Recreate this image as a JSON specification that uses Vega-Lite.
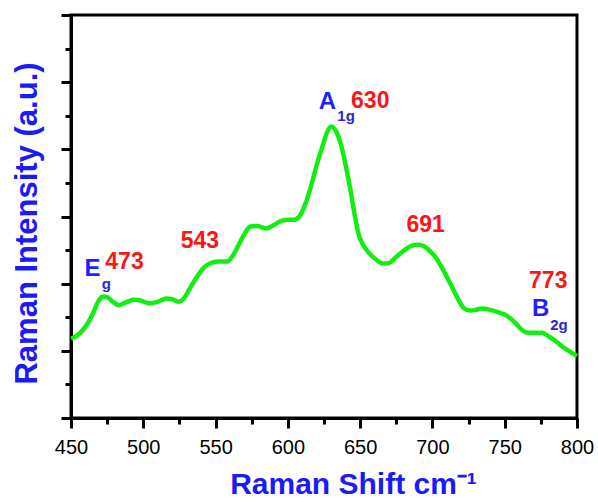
{
  "$schema": "https://vega.github.io/schema/vega-lite/v6.json",
  "width": 506,
  "height": 403,
  "autosize": {"type": "none"},
  "padding": {"left": 71, "top": 15, "right": 21, "bottom": 84},
  "config": {
    "view": {"stroke": "black", "strokeWidth": 3},
    "font": "Liberation Sans"
  },
  "datasets": {
    "spectrum": [
      {"shift": 450, "intensity": 1.18},
      {"shift": 455, "intensity": 1.24},
      {"shift": 460, "intensity": 1.36},
      {"shift": 465, "intensity": 1.55},
      {"shift": 469, "intensity": 1.74},
      {"shift": 472, "intensity": 1.81},
      {"shift": 475, "intensity": 1.8},
      {"shift": 479, "intensity": 1.73},
      {"shift": 483, "intensity": 1.68},
      {"shift": 488, "intensity": 1.72},
      {"shift": 493, "intensity": 1.76},
      {"shift": 498, "intensity": 1.75},
      {"shift": 504, "intensity": 1.71},
      {"shift": 510, "intensity": 1.73},
      {"shift": 516, "intensity": 1.78},
      {"shift": 520, "intensity": 1.77},
      {"shift": 524, "intensity": 1.73},
      {"shift": 528, "intensity": 1.78},
      {"shift": 532, "intensity": 1.92},
      {"shift": 537, "intensity": 2.1},
      {"shift": 541, "intensity": 2.22},
      {"shift": 546, "intensity": 2.3},
      {"shift": 552, "intensity": 2.33},
      {"shift": 558, "intensity": 2.33},
      {"shift": 562, "intensity": 2.42},
      {"shift": 566, "intensity": 2.58},
      {"shift": 570, "intensity": 2.74},
      {"shift": 574, "intensity": 2.85},
      {"shift": 579, "intensity": 2.86},
      {"shift": 585, "intensity": 2.82},
      {"shift": 590, "intensity": 2.87},
      {"shift": 595, "intensity": 2.93},
      {"shift": 600, "intensity": 2.95},
      {"shift": 604, "intensity": 2.95},
      {"shift": 608, "intensity": 3.0},
      {"shift": 612, "intensity": 3.18},
      {"shift": 616, "intensity": 3.45},
      {"shift": 620, "intensity": 3.77},
      {"shift": 624, "intensity": 4.05},
      {"shift": 627, "intensity": 4.25},
      {"shift": 630, "intensity": 4.34},
      {"shift": 633, "intensity": 4.28},
      {"shift": 637, "intensity": 4.05},
      {"shift": 640, "intensity": 3.76},
      {"shift": 643, "intensity": 3.43},
      {"shift": 646, "intensity": 3.05},
      {"shift": 649, "intensity": 2.73},
      {"shift": 652, "intensity": 2.58},
      {"shift": 656, "intensity": 2.46},
      {"shift": 661, "intensity": 2.36},
      {"shift": 666, "intensity": 2.3},
      {"shift": 670, "intensity": 2.31},
      {"shift": 675, "intensity": 2.4},
      {"shift": 680, "intensity": 2.49},
      {"shift": 685, "intensity": 2.56},
      {"shift": 690, "intensity": 2.58},
      {"shift": 694, "intensity": 2.56},
      {"shift": 698, "intensity": 2.49},
      {"shift": 702, "intensity": 2.4},
      {"shift": 706, "intensity": 2.26},
      {"shift": 710, "intensity": 2.1},
      {"shift": 714, "intensity": 1.93},
      {"shift": 718, "intensity": 1.76},
      {"shift": 722, "intensity": 1.63},
      {"shift": 726, "intensity": 1.6},
      {"shift": 730, "intensity": 1.61},
      {"shift": 734, "intensity": 1.63},
      {"shift": 740, "intensity": 1.61},
      {"shift": 746, "intensity": 1.57},
      {"shift": 750, "intensity": 1.54},
      {"shift": 754, "intensity": 1.48},
      {"shift": 758, "intensity": 1.4},
      {"shift": 762, "intensity": 1.31},
      {"shift": 766, "intensity": 1.27},
      {"shift": 771, "intensity": 1.27},
      {"shift": 776, "intensity": 1.27},
      {"shift": 780, "intensity": 1.22},
      {"shift": 785, "intensity": 1.15},
      {"shift": 790, "intensity": 1.06},
      {"shift": 795, "intensity": 0.99},
      {"shift": 800, "intensity": 0.92}
    ],
    "labels": [
      {"shift": 464.9, "intensity": 2.22, "text": "E", "kind": "mode"},
      {"shift": 474.4, "intensity": 1.99, "text": "g", "kind": "sub"},
      {"shift": 487, "intensity": 2.33, "text": "473", "kind": "num"},
      {"shift": 539.2, "intensity": 2.63, "text": "543", "kind": "num"},
      {"shift": 627.4, "intensity": 4.7, "text": "A", "kind": "mode"},
      {"shift": 640.3, "intensity": 4.49, "text": "1g", "kind": "sub"},
      {"shift": 657, "intensity": 4.72, "text": "630", "kind": "num"},
      {"shift": 695.3, "intensity": 2.88, "text": "691", "kind": "num"},
      {"shift": 780.1, "intensity": 2.04, "text": "773", "kind": "num"},
      {"shift": 774.8, "intensity": 1.63, "text": "B", "kind": "mode"},
      {"shift": 787.5, "intensity": 1.38, "text": "2g", "kind": "sub"}
    ]
  },
  "encoding": {
    "x": {
      "field": "shift",
      "type": "quantitative",
      "scale": {"domain": [450, 800], "nice": false},
      "axis": {
        "values": [450, 475, 500, 525, 550, 575, 600, 625, 650, 675, 700, 725, 750, 775, 800],
        "labelExpr": "datum.value % 50 === 0 ? datum.label : ''",
        "labelOverlap": false,
        "labelFlush": false,
        "tickSize": {"condition": {"test": "datum.value % 50 === 0", "value": 10}, "value": 6},
        "tickWidth": 3,
        "tickColor": "black",
        "domainWidth": 3,
        "domainColor": "black",
        "grid": false,
        "labelFontSize": 20,
        "labelColor": "black",
        "labelPadding": 9,
        "title": "Raman Shift cm⁻¹",
        "titleFontSize": 30,
        "titleFontWeight": "bold",
        "titleColor": "#1a1aff",
        "titlePadding": 12,
        "titleX": 282,
        "titleAlign": "center"
      }
    },
    "y": {
      "field": "intensity",
      "type": "quantitative",
      "scale": {"domain": [0, 6], "nice": false},
      "axis": {
        "values": [0, 0.5, 1, 1.5, 2, 2.5, 3, 3.5, 4, 4.5, 5, 5.5, 6],
        "labels": false,
        "tickSize": {"condition": {"test": "datum.value % 1 === 0", "value": 10}, "value": 6},
        "tickWidth": 3,
        "tickColor": "black",
        "domainWidth": 3,
        "domainColor": "black",
        "grid": false,
        "title": "Raman Intensity (a.u.)",
        "titleFontSize": 31,
        "titleFontWeight": "bold",
        "titleColor": "#1a1aff",
        "titlePadding": 16,
        "titleY": 208
      }
    }
  },
  "layer": [
    {
      "data": {"name": "spectrum"},
      "mark": {"type": "line", "color": "#11ee11", "strokeWidth": 4.5, "interpolate": "monotone"}
    },
    {
      "data": {"name": "labels"},
      "transform": [{"filter": "datum.kind === 'mode'"}],
      "mark": {"type": "text", "font": "Liberation Sans", "fontWeight": "bold", "fontSize": 24, "color": "#1f1fff", "align": "center", "baseline": "middle"},
      "encoding": {"text": {"field": "text"}}
    },
    {
      "data": {"name": "labels"},
      "transform": [{"filter": "datum.kind === 'sub'"}],
      "mark": {"type": "text", "font": "Liberation Sans", "fontWeight": "bold", "fontSize": 15, "color": "#2626dd", "align": "center", "baseline": "middle"},
      "encoding": {"text": {"field": "text"}}
    },
    {
      "data": {"name": "labels"},
      "transform": [{"filter": "datum.kind === 'num'"}],
      "mark": {"type": "text", "font": "Liberation Sans", "fontWeight": "bold", "fontSize": 23, "color": "#ff1414", "align": "center", "baseline": "middle"},
      "encoding": {"text": {"field": "text"}}
    }
  ]
}
